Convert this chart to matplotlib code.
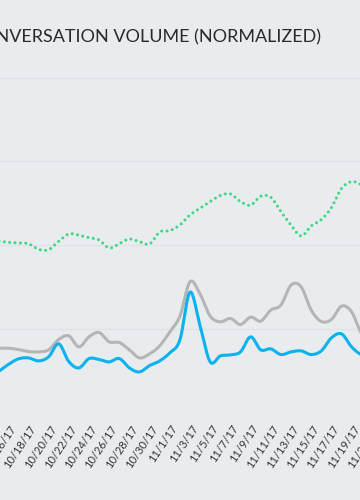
import numpy as np
import pandas as pd
import matplotlib
matplotlib.use("Agg")
import matplotlib.pyplot as plt
import matplotlib.dates as mdates

# daily values, 10/14/17 .. 11/20/17 (normalized volume)
dates = pd.date_range("2017-10-14", "2017-11-20", freq="D")
green = [51.2, 50.8, 50.6, 50.4, 48.7, 48.6, 51.1, 53.3, 52.9, 52.2,
         51.5, 49.1, 50.4, 51.8, 51.0, 50.3, 53.9, 54.3, 56.0, 59.0,
         61.0, 63.0, 64.8, 65.3, 63.0, 61.9, 64.6, 64.3, 60.0, 56.0,
         52.7, 55.7, 57.6, 61.2, 66.9, 69.0, 68.1, 67.7]
gray = [19.1, 19.1, 18.7, 18.1, 18.0, 18.6, 21.7, 22.8, 19.5, 22.5,
        23.8, 21.0, 20.8, 18.6, 16.2, 17.4, 19.8, 24.0, 28.7, 39.0,
        35.3, 28.7, 27.0, 28.0, 26.2, 28.4, 27.2, 30.5, 32.0, 38.0,
        37.5, 30.5, 27.1, 27.7, 31.7, 30.0, 23.5, 22.5]
blue = [12.0, 14.2, 15.9, 16.2, 15.3, 16.5, 20.4, 15.1, 13.2, 16.0,
        15.7, 15.0, 16.0, 13.2, 12.0, 13.9, 15.3, 17.7, 21.6, 35.9,
        25.7, 15.0, 16.8, 17.1, 18.0, 22.5, 18.6, 18.9, 17.2, 18.0,
        18.3, 17.2, 18.3, 22.2, 23.4, 19.5, 17.1, 16.8]

tick_dates = pd.date_range("2017-10-12", "2017-11-23", freq="2D")
tick_labels = [f"{d.month}/{d.day}/{d:%y}" for d in tick_dates]

title = "CONVERSATION VOLUME (NORMALIZED)"


def smooth(x, y, n=16):
    # catmull-rom curve through the daily points (drawing only)
    x = np.asarray(x, float)
    y = np.asarray(y, float)
    px = np.r_[x[0], x, x[-1]]
    py = np.r_[y[0], y, y[-1]]
    t = np.linspace(0, 1, n, endpoint=False)[:, None]
    out = []
    for p in (px, py):
        p0, p1, p2, p3 = p[:-3], p[1:-2], p[2:-1], p[3:]
        c = 0.5 * ((2 * p1) + (-p0 + p2) * t
                   + (2 * p0 - 5 * p1 + 4 * p2 - p3) * t ** 2
                   + (-p0 + 3 * p1 - 3 * p2 + p3) * t ** 3)
        out.append(np.r_[c.T.ravel(), p[-2]])
    return out[0], out[1]


bg = "#e9ecef"
W = 360
fig = plt.figure(figsize=(3.6, 5.0), dpi=100, facecolor=bg)
# the chart is a cut-out of a wider plot: axes run past both figure edges
left_px, right_px = -40, 400
ax = fig.add_axes([left_px / W, 88 / 500, (right_px - left_px) / W, 334 / 500],
                  facecolor=bg)

xn = mdates.date2num(dates)
for vals, col in ((gray, "#b5b5b5"), (blue, "#0ab2ee")):
    sx, sy = smooth(xn, vals)
    ax.plot(sx, sy, color=col, lw=2.2, solid_capstyle="round")
sx, sy = smooth(xn, green)
ax.plot(sx, sy, color="#3fd883", lw=2.2, dashes=[0.01, 1.75],
        dash_capstyle="round")

ax.set_yticks([0, 25, 50, 75, 100])
ax.set_yticklabels([])
ax.grid(axis="y", color="#dfe2e6", lw=1)
ax.set_axisbelow(True)
for s in ax.spines.values():
    s.set_visible(False)

ax.set_xticks(mdates.date2num(tick_dates))
ax.set_xticklabels(tick_labels, rotation=56, ha="right",
                   fontsize=8, color="#333333", family="Lato")
ax.tick_params(axis="x", length=0, pad=8)
ax.tick_params(axis="y", length=0)

# limits last, so the tick list does not widen them
base = mdates.date2num(pd.Timestamp("2017-10-18"))
ppd = 10.1  # pixels per day
ax.set_xlim(base + (left_px - 38.5) / ppd, base + (right_px - 38.5) / ppd)
ax.set_ylim(0, 100)

fig.text(321 / W, 1 - 42 / 500, title, ha="right", va="baseline",
         fontsize=13, color="#2a2a2a", family="Lato")

fig.savefig("out.png", dpi=100, facecolor=bg)
